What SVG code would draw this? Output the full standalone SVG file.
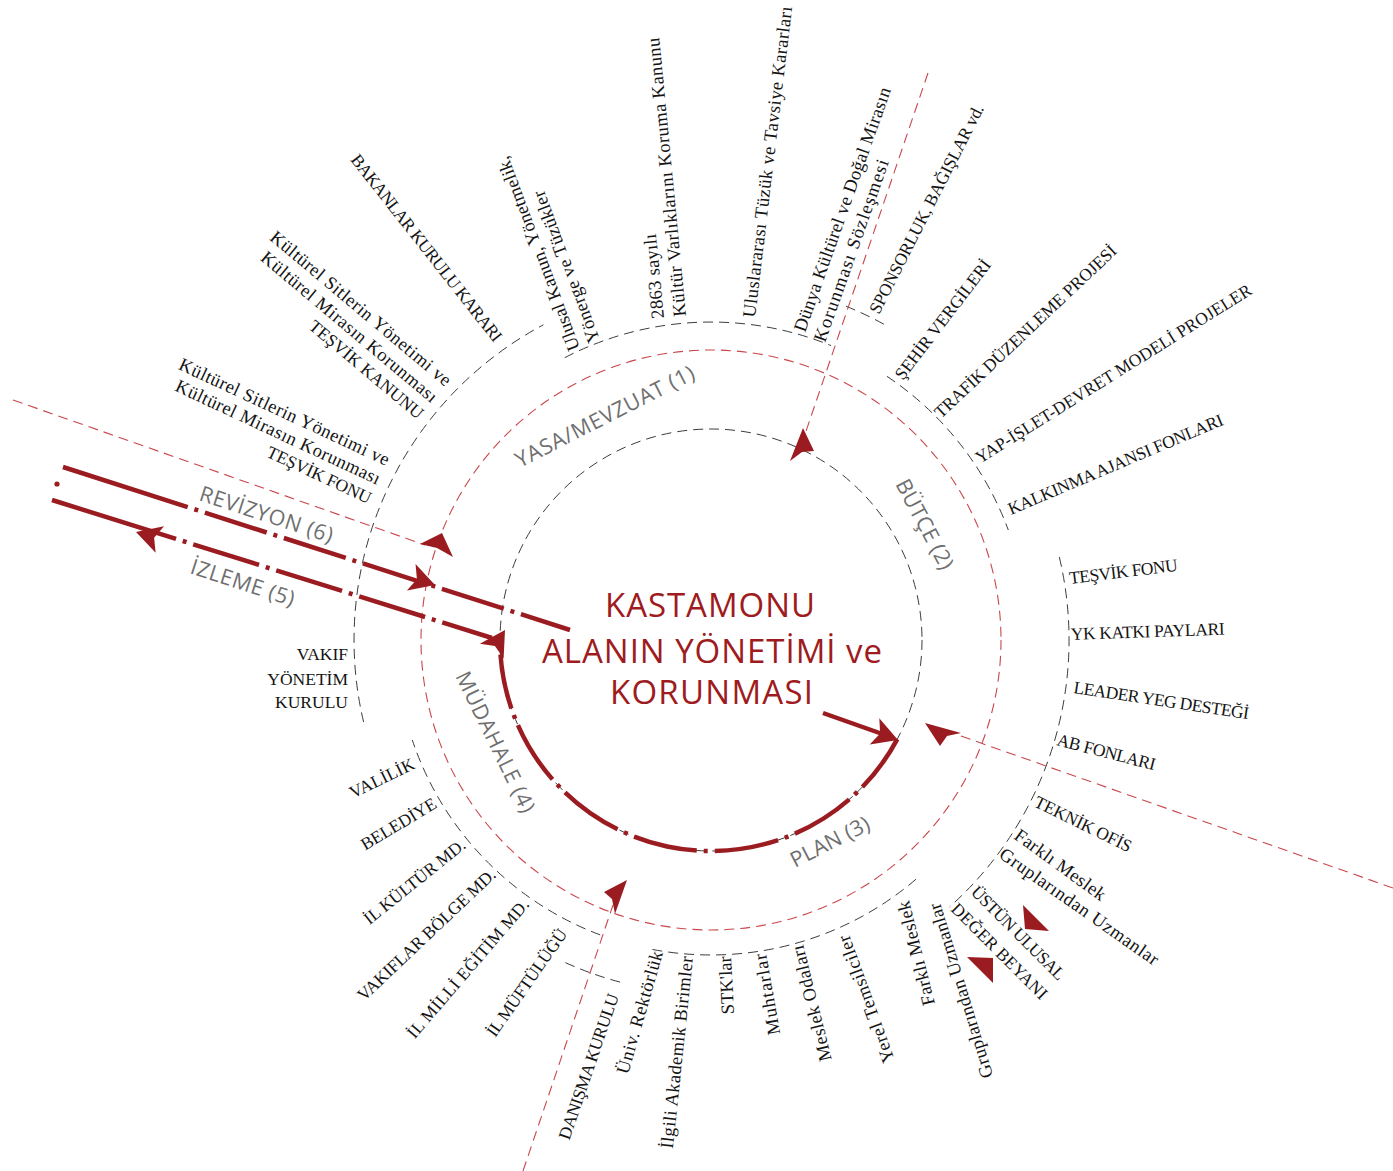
<svg xmlns="http://www.w3.org/2000/svg" width="1393" height="1171" viewBox="0 0 1393 1171">
<style>
.lbl{font-family:"Liberation Serif","Times New Roman",serif;font-size:17.5px;fill:#141414}
.lc{font-size:18.5px}
.e{text-anchor:end}
.st{font-family:"Open Sans","Noto Sans",sans-serif;font-size:21.5px;fill:#6f6f6f}
.title{font-family:"Open Sans","Noto Sans",sans-serif;font-size:33px;fill:#9e1b20;text-anchor:middle}
.bk{fill:none;stroke:#3c3c3c;stroke-width:1;stroke-dasharray:10 6}
.rd{fill:none;stroke:#c9474c;stroke-width:1.1;stroke-dasharray:10 6}
.thick{fill:none;stroke:#9b1c20;stroke-width:4.5}
.tri{fill:#9b1c20}
</style>
<defs>
<path id="ah" d="M0,0 L-25,-14 L-19,0 L-25,14 Z" fill="#9b1c20"/>
</defs>
<rect width="1393" height="1171" fill="#ffffff"/>

<g id="rings">
<circle cx="711" cy="640" r="290" class="rd"/>
<circle cx="711" cy="640" r="211" class="bk"/>
<path class="bk" d="M363.6,722.1 A357,357 0 0 1 543.4,324.8"/>
<path class="bk" d="M564.7,357.7 A318,318 0 0 1 831.1,345.6"/>
<path class="bk" d="M845.9,306.2 A360,360 0 0 1 885.5,325.1"/>
<path class="bk" d="M886.9,376.3 A317,317 0 0 1 1008.3,530"/>
<path class="bk" d="M1059.3,557 A358,358 0 0 1 949.6,906.9"/>
<path class="bk" d="M916,879.2 A315,315 0 0 1 647.1,948.4"/>
<path class="bk" d="M620,982.1 A354,354 0 0 1 563.1,961.6"/>
<path class="bk" d="M600.2,934.9 A315,315 0 0 1 412.3,740"/>
</g>

<g id="connectors">
<path class="rd" d="M13,400 L425,545"/>
<path class="rd" d="M928,73 L803,440"/>
<path class="rd" d="M1393,888 L958,735"/>
<path class="rd" d="M523,1171 L613,905"/>
<path class="tri" d="M442,533 L420,544 L437,548 L453,557 Z"/>
<path class="tri" d="M803,428 L790,461 L802,452 L814,451 Z"/>
<path class="tri" d="M925,723 L940,746 L947,736 L961,733 Z"/>
<path class="tri" d="M627,880 L604,892 L612,899 L615,914 Z"/>
<path class="tri" d="M1023,905 L1049,931 L1025,929 Z"/>
<path class="tri" d="M967,957 L993,958 L993,983 Z"/>
<path class="thick" d="M63,467 L570,630" stroke-dasharray="131 7 4 7 65 7 4 7 65 7 4 7 65 7 4 7 65 7 4 7 65 7 4 7 200"/>
<path class="thick" d="M52,500 L492,638" stroke-dasharray="130 7 4 7 69 7 4 7 69 7 4 7 69 7 4 7 200"/>
<path class="thick" d="M897.3,739.1 A211,211 0 0 1 500.5,654.7" stroke-dasharray="64.5 7 4 7" stroke-dashoffset="5"/>
<path class="thick" d="M823,713 L881,733.5"/>
<use href="#ah" transform="translate(435,585) rotate(18)"/>
<use href="#ah" transform="translate(136,532) rotate(197.5)"/>
<use href="#ah" transform="translate(505,630) rotate(-58)"/>
<use href="#ah" transform="translate(898,740) rotate(20)"/>
<circle cx="57" cy="484" r="2.6" fill="#9b1c20"/>
</g>

<g id="title">
<text class="title" x="710" y="617" textLength="210">KASTAMONU</text>
<text class="title" x="712" y="663" textLength="340">ALANIN YÖNETİMİ ve</text>
<text class="title" x="711.5" y="704" textLength="203">KORUNMASI</text>
</g>

<g id="stages">
<text class="st" transform="translate(520,468) rotate(-27)" textLength="198">YASA/MEVZUAT (1)</text>
<text class="st" transform="translate(895,484) rotate(62)" textLength="99">BÜTÇE (2)</text>
<text class="st" transform="translate(795,868) rotate(-27)" textLength="86">PLAN (3)</text>
<text class="st" transform="translate(455,676) rotate(64)" textLength="154">MÜDAHALE (4)</text>
<text class="st" transform="translate(189,573) rotate(18)" textLength="108">İZLEME (5)</text>
<text class="st" transform="translate(198,500) rotate(18)" textLength="139">REVİZYON (6)</text>
</g>

<g id="n-bakanlar"><text class="lbl" transform="translate(350,160) rotate(51.8)" textLength="233">BAKANLAR KURULU KARARI</text></g>
<g id="n-tesvik-kanunu">
<text class="lbl lc e" transform="translate(445,387) rotate(40)" textLength="230">Kültürel Sitlerin Yönetimi ve</text>
<text class="lbl lc e" transform="translate(431.2,403.5) rotate(40)" textLength="224">Kültürel Mirasın Korunması</text>
<text class="lbl e" transform="translate(417.4,419.9) rotate(40)" textLength="143">TEŞVİK KANUNU</text>
</g>
<g id="n-tesvik-fonu-l">
<text class="lbl lc e" transform="translate(386,466) rotate(25)" textLength="230">Kültürel Sitlerin Yönetimi ve</text>
<text class="lbl lc e" transform="translate(377,485) rotate(25)" textLength="224">Kültürel Mirasın Korunması</text>
<text class="lbl e" transform="translate(368,504) rotate(25)" textLength="113">TEŞVİK FONU</text>
</g>
<g id="n-ulusal">
<text class="lbl lc" transform="translate(580,348) rotate(-110.5)" textLength="206">Ulusal Kanun, Yönetmelik,</text>
<text class="lbl lc" transform="translate(600,340) rotate(-110.5)" textLength="161">Yönerge ve Tüzükler</text>
</g>
<g id="n-2863">
<text class="lbl lc" transform="translate(664,318) rotate(-95.5)" textLength="85">2863 sayılı</text>
<text class="lbl lc" transform="translate(686,316) rotate(-95.5)" textLength="280">Kültür Varlıklarını Koruma Kanunu</text>
</g>
<g id="n-uluslararasi"><text class="lbl lc" transform="translate(755,318) rotate(-83.2)" textLength="313">Uluslararası Tüzük ve Tavsiye Kararları</text></g>
<g id="n-dunya">
<text class="lbl lc" transform="translate(805,333) rotate(-70.5)" textLength="258">Dünya Kültürel ve Doğal Mirasın</text>
<text class="lbl lc" transform="translate(825,343) rotate(-70.5)" textLength="192">Korunması Sözleşmesi</text>
</g>
<g id="n-sponsorluk"><text class="lbl" transform="translate(879,315) rotate(-63)" textLength="232">SPONSORLUK, BAĞIŞLAR vd.</text></g>
<g id="n-sehir"><text class="lbl" transform="translate(903,381) rotate(-52.5)" textLength="146">ŞEHİR VERGİLERİ</text></g>
<g id="n-trafik"><text class="lbl" transform="translate(941,419) rotate(-43.3)" textLength="243">TRAFİK DÜZENLEME PROJESİ</text></g>
<g id="n-yap"><text class="lbl" transform="translate(980,464) rotate(-32)" textLength="322">YAP-İŞLET-DEVRET MODELİ PROJELER</text></g>
<g id="n-kalkinma"><text class="lbl" transform="translate(1011,515) rotate(-23)" textLength="232">KALKINMA AJANSI FONLARI</text></g>
<g id="n-tesvik-fonu-r"><text class="lbl" transform="translate(1070,584) rotate(-7)" textLength="109">TEŞVİK FONU</text></g>
<g id="n-yk"><text class="lbl" transform="translate(1071,640) rotate(-2)" textLength="154">YK KATKI PAYLARI</text></g>
<g id="n-leader"><text class="lbl" transform="translate(1073,693) rotate(8.5)" textLength="177">LEADER YEG DESTEĞİ</text></g>
<g id="n-ab"><text class="lbl" transform="translate(1056,745) rotate(14.5)" textLength="101">AB FONLARI</text></g>
<g id="n-teknik"><text class="lbl" transform="translate(1033,806) rotate(26)" textLength="106">TEKNİK OFİS</text></g>
<g id="n-farkli-r">
<text class="lbl lc" transform="translate(1013,838) rotate(36)" textLength="108">Farklı Meslek</text>
<text class="lbl lc" transform="translate(998,857) rotate(35)" textLength="190">Gruplarından Uzmanlar</text>
</g>
<g id="n-ustun">
<text class="lbl" transform="translate(970,893) rotate(45)" textLength="125">ÜSTÜN ULUSAL</text>
<text class="lbl" transform="translate(950,910) rotate(45)" textLength="128">DEĞER BEYANI</text>
</g>
<g id="n-farkli-b">
<text class="lbl lc e" transform="translate(909,900) rotate(-104)" textLength="107">Farklı Meslek</text>
<text class="lbl lc e" transform="translate(940,902) rotate(-107)" textLength="182">Gruplarından Uzmanlar</text>
</g>
<g id="n-yerel"><text class="lbl lc e" transform="translate(849,934) rotate(-110)" textLength="134">Yerel Temsilciler</text></g>
<g id="n-meslek"><text class="lbl lc e" transform="translate(803,944) rotate(-104)" textLength="119">Meslek Odaları</text></g>
<g id="n-muhtar"><text class="lbl lc e" transform="translate(766,953) rotate(-100)" textLength="82">Muhtarlar</text></g>
<g id="n-stk"><text class="lbl lc e" transform="translate(731,956) rotate(-93)" textLength="58">STK'lar</text></g>
<g id="n-ilgili"><text class="lbl lc e" transform="translate(693,957) rotate(-84)" textLength="193">İlgili Akademik Birimler</text></g>
<g id="n-univ"><text class="lbl lc e" transform="translate(663,953) rotate(-74)" textLength="127">Üniv. Rektörlük</text></g>
<g id="n-danisma"><text class="lbl e" transform="translate(619,996) rotate(-71)" textLength="153">DANIŞMA KURULU</text></g>
<g id="n-muftu"><text class="lbl e" transform="translate(568,934) rotate(-55)" textLength="127">İL MÜFTÜLÜĞÜ</text></g>
<g id="n-meb"><text class="lbl e" transform="translate(530,905) rotate(-49.4)" textLength="177">İL MİLLİ EĞİTİM MD.</text></g>
<g id="n-vakiflar"><text class="lbl e" transform="translate(497,876) rotate(-43.4)" textLength="183">VAKIFLAR BÖLGE MD.</text></g>
<g id="n-kultur"><text class="lbl e" transform="translate(467,847) rotate(-38.7)" textLength="125">İL KÜLTÜR MD.</text></g>
<g id="n-belediye"><text class="lbl e" transform="translate(438,807) rotate(-31)" textLength="85">BELEDİYE</text></g>
<g id="n-valilik"><text class="lbl e" transform="translate(416,768) rotate(-26)" textLength="70">VALİLİK</text></g>
<g id="n-vakif">
<text class="lbl e" x="348" y="660">VAKIF</text>
<text class="lbl e" x="348" y="685">YÖNETİM</text>
<text class="lbl e" x="348" y="708">KURULU</text>
</g>
</svg>
